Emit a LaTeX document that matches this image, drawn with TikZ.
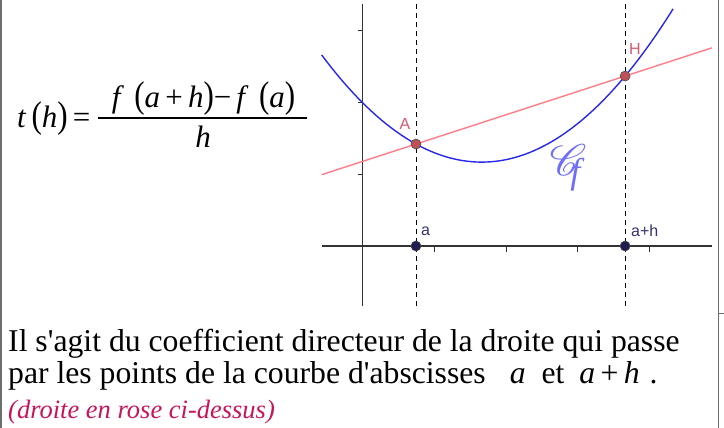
\documentclass[tikz,border=0pt]{standalone}
\usepackage{fontspec}
\usepackage{mathrsfs}
\usepackage{graphicx}
\setmainfont{Liberation Serif}[Ligatures=TeXOff]
\newfontfamily\labelfont{Liberation Sans}
\definecolor{curveblue}{RGB}{40,40,235}
\definecolor{secpink}{RGB}{255,125,135}
\definecolor{ptred}{RGB}{190,80,90}
\definecolor{ptnavy}{RGB}{30,30,80}
\definecolor{lblred}{RGB}{210,90,110}
\definecolor{lblnavy}{RGB}{50,50,110}
\definecolor{magtext}{RGB}{200,20,90}
\definecolor{scriptblue}{RGB}{110,110,250}
\definecolor{bordergray}{RGB}{110,110,110}
\newcommand{\bigpar}[1]{\scalebox{1}[1.2]{#1}}
\tikzset{
  axisline/.style={draw=black!80, line width=1.1pt},
  guide/.style={draw=black, line width=0.9pt, dash pattern=on 5pt off 4pt},
  ptA/.style={circle, draw=black!70, fill=ptred, line width=0.6pt, minimum size=10pt, inner sep=0pt},
  ptX/.style={circle, draw=black!70, fill=ptnavy, line width=0.6pt, minimum size=10pt, inner sep=0pt},
  lbl/.style={font=\labelfont\fontsize{16}{16}\selectfont, inner sep=0pt},
  bodytext/.style={font=\fontsize{31.7}{32}\selectfont, anchor=base west, inner sep=0pt},
  formula/.style={font=\fontsize{31}{32}\selectfont, inner sep=0pt, anchor=base}
}
\begin{document}
\begin{tikzpicture}[x=1pt, y=-1pt]
\useasboundingbox (0,0) rectangle (724,428);
% borders
\draw[bordergray, line width=1.5pt] (1,0) -- (1,428);
\draw[bordergray, line width=1.5pt] (718.5,0) -- (718.5,428);
\draw[bordergray, line width=1pt] (718.5,313) -- (724,313);
% graph
\begin{scope}[shift={(362.7pt,-246pt)}, x=71.7pt, y=71.7pt]
  \coordinate (o) at (0,0);
  % axes
  \draw[axisline] (0,-0.84) -- (0,3.37);
  \draw[axisline] (-0.572,0) -- (4.87,0);
  \foreach \t in {1,2,3,4} \draw[axisline, line width=0.9pt] (\t,0) -- (\t,-0.08);
  \foreach \t in {1,2,3} \draw[axisline, line width=0.9pt] (0,\t) -- (-0.07,\t);
  % dashed guides
  \draw[guide] (0.743,-0.84) -- (0.743,3.37);
  \draw[guide] (3.66,-0.84) -- (3.66,3.37);
  % secant
  \draw[secpink, line width=1.4pt] (-0.572,{1.422+0.325*(-0.572-0.743)}) -- (4.87,{1.422+0.325*(4.87-0.743)});
  % curve
  \draw[curveblue, line width=1.4pt, domain=-0.572:4.33, samples=80, smooth] plot (\x,{0.3*(\x-1.66)^2+1.17});
  % points
  \node[ptA] (A) at (0.743,{0.3*(0.743-1.66)^2+1.17}) {};
  \node[ptA] (H) at (3.66,{0.3*(3.66-1.66)^2+1.17}) {};
  \node[ptX] (pa) at (0.743,0) {};
  \node[ptX] (pah) at (3.66,0) {};
\end{scope}
% labels
\node[lbl, text=lblred] (lA) at (405,124) {A};
\node[lbl, text=lblred] (lH) at (635,49) {H};
\node[lbl, text=lblnavy, anchor=west] (la) at (421,231) {a};
\node[lbl, text=lblnavy, anchor=west] (lah) at (631,231) {a+h};
\node[text=scriptblue, inner sep=0pt] (cf) at (565,168) {\scalebox{4.4}{$\mathscr{C}$}\hspace{-16pt}\raisebox{-8pt}{\fontsize{36}{36}\selectfont\itshape f}};
% formula
\node[formula, anchor=base west] (lhs) at (17,128) {\textit{t}\,\bigpar{(}\textit{h}\bigpar{)}\,=};
\node[formula] (num) at (203.5,108) {\textit{f}\,\,\bigpar{(}\textit{a}\,+\,\textit{h}\bigpar{)}−\,\textit{f}\,\,\bigpar{(}\textit{a}\bigpar{)}};
\draw[line width=1.3pt] (98,118) -- (307,118);
\node[formula] (den) at (203,147) {\textit{h}};
% text
\node[bodytext] (l1) at (8,351) {Il s'agit du coefficient directeur de la droite qui passe};
\node[bodytext] (l2) at (8,383) {par les points de la courbe d'abscisses\hspace{24pt}\textit{a}\hspace{16pt}et\hspace{15pt}\textit{a}\,+\,\textit{h}\hspace{10pt}.};
\node[bodytext, text=magtext, font=\fontsize{26.5}{27}\selectfont\itshape] (l3) at (8,418) {(droite en rose ci-dessus)};
\end{tikzpicture}
\end{document}
